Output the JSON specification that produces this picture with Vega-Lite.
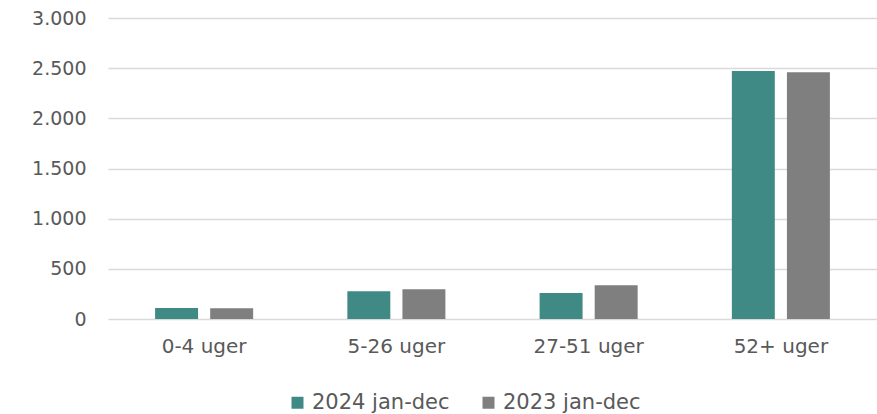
{
  "$schema": "https://vega.github.io/schema/vega-lite/v6.json",
  "autosize": {"type": "none"},
  "padding": {"left": 108, "top": 18, "right": 0, "bottom": 95},
  "width": 769,
  "height": 301,
  "background": "white",
  "data": {
    "values": [
      {"kategori": "0-4 uger", "periode": "2024 jan-dec", "antal": 110},
      {"kategori": "0-4 uger", "periode": "2023 jan-dec", "antal": 107},
      {"kategori": "5-26 uger", "periode": "2024 jan-dec", "antal": 276},
      {"kategori": "5-26 uger", "periode": "2023 jan-dec", "antal": 296},
      {"kategori": "27-51 uger", "periode": "2024 jan-dec", "antal": 259},
      {"kategori": "27-51 uger", "periode": "2023 jan-dec", "antal": 336},
      {"kategori": "52+ uger", "periode": "2024 jan-dec", "antal": 2472},
      {"kategori": "52+ uger", "periode": "2023 jan-dec", "antal": 2460}
    ]
  },
  "mark": {"type": "bar"},
  "encoding": {
    "x": {
      "field": "kategori",
      "type": "nominal",
      "sort": ["0-4 uger", "5-26 uger", "27-51 uger", "52+ uger"],
      "scale": {"paddingInner": 0.49, "paddingOuter": 0.245},
      "axis": {
        "title": null,
        "labelAngle": 0,
        "domain": false,
        "ticks": false,
        "labelPadding": 17,
        "labelFont": "DejaVu Sans",
        "labelFontSize": 20,
        "labelColor": "#595959"
      }
    },
    "xOffset": {
      "field": "periode",
      "type": "nominal",
      "sort": ["2024 jan-dec", "2023 jan-dec"],
      "scale": {"paddingInner": 0.22, "paddingOuter": 0}
    },
    "y": {
      "field": "antal",
      "type": "quantitative",
      "scale": {"domain": [0, 3000]},
      "axis": {
        "title": null,
        "values": [0, 500, 1000, 1500, 2000, 2500, 3000],
        "labelExpr": "replace(format(datum.value, ','), ',', '.')",
        "domain": false,
        "ticks": false,
        "labelPadding": 22,
        "labelFont": "DejaVu Sans",
        "labelFontSize": 19,
        "labelColor": "#595959",
        "gridColor": "#D9D9D9",
        "gridWidth": 1.5
      }
    },
    "color": {
      "field": "periode",
      "type": "nominal",
      "sort": ["2024 jan-dec", "2023 jan-dec"],
      "scale": {"domain": ["2024 jan-dec", "2023 jan-dec"], "range": ["#408A85", "#7F7F7F"]},
      "legend": {
        "title": null,
        "orient": "none",
        "direction": "horizontal",
        "legendX": 179,
        "legendY": 374,
        "symbolType": "square",
        "symbolSize": 144,
        "symbolStrokeWidth": 0,
        "symbolOpacity": 1,
        "labelFont": "DejaVu Sans",
        "labelFontSize": 21,
        "labelColor": "#595959",
        "labelOffset": 4,
        "columnPadding": 28
      }
    }
  },
  "config": {
    "view": {"stroke": null}
  }
}
